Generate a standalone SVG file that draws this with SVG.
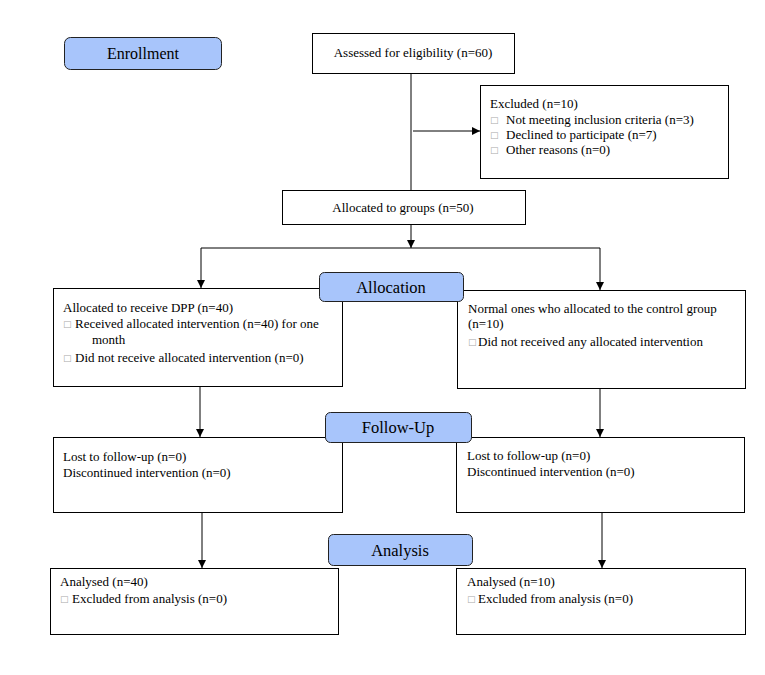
<svg xmlns="http://www.w3.org/2000/svg" width="765" height="675" viewBox="0 0 765 675">
<defs>
<style>
.box{fill:#fff;stroke:#000;stroke-width:1}
.lab{fill:#a8c5fb;stroke:#222;stroke-width:1}
.t{font-family:"Liberation Serif","Times New Roman",serif;font-size:13px;fill:#000}
.lt{font-family:"Liberation Serif","Times New Roman",serif;font-size:16.5px;fill:#000;text-anchor:middle}
.b{font-family:"DejaVu Sans",sans-serif;font-size:9px;fill:#aaa}
.ln{stroke:#000;stroke-width:1;fill:none}
</style>
<marker id="ah" viewBox="0 0 10 10" refX="10" refY="5" markerWidth="8" markerHeight="8" markerUnits="userSpaceOnUse" orient="auto">
<path d="M0,0 L10,5 L0,10 z" fill="#000"/>
</marker>
</defs>
<rect width="765" height="675" fill="#fff"/>
<g id="connectors">
<line class="ln" x1="411" y1="73" x2="411" y2="190"/>
<line class="ln" x1="413" y1="131" x2="480" y2="131" marker-end="url(#ah)"/>
<line class="ln" x1="411" y1="224" x2="411" y2="248" marker-end="url(#ah)"/>
<line class="ln" x1="201" y1="248" x2="600" y2="248"/>
<line class="ln" x1="201" y1="248" x2="201" y2="288" marker-end="url(#ah)"/>
<line class="ln" x1="600" y1="248" x2="600" y2="290" marker-end="url(#ah)"/>
<line class="ln" x1="200" y1="387" x2="200" y2="437" marker-end="url(#ah)"/>
<line class="ln" x1="600" y1="388" x2="600" y2="437" marker-end="url(#ah)"/>
<line class="ln" x1="202" y1="512" x2="202" y2="568" marker-end="url(#ah)"/>
<line class="ln" x1="602" y1="512" x2="602" y2="568" marker-end="url(#ah)"/>
</g>
<g id="enrollment">
<rect class="lab" x="64.5" y="37.5" width="157" height="32" rx="6"/>
<text class="lt" x="143" y="59" style="font-size:16px">Enrollment</text>
</g>
<g id="assessed">
<rect class="box" x="312.5" y="33.5" width="202" height="40"/>
<text class="t" x="413" y="57" text-anchor="middle">Assessed for eligibility (n=60)</text>
</g>
<g id="excluded">
<rect class="box" x="480.5" y="85.5" width="248" height="93"/>
<text class="t" x="490" y="108">Excluded (n=10)</text>
<text class="b" x="490" y="123">□</text><text class="t" x="506" y="124">Not meeting inclusion criteria (n=3)</text>
<text class="b" x="490" y="138">□</text><text class="t" x="506" y="139">Declined to participate (n=7)</text>
<text class="b" x="490" y="153">□</text><text class="t" x="506" y="154">Other reasons (n=0)</text>
</g>
<g id="allocated-groups">
<rect class="box" x="282.5" y="190.5" width="243" height="34"/>
<text class="t" x="403" y="212" text-anchor="middle">Allocated to groups (n=50)</text>
</g>
<g id="alloc-dpp">
<rect class="box" x="53.5" y="288.5" width="289" height="98"/>
<text class="t" x="63" y="312">Allocated to receive DPP (n=40)</text>
<text class="b" x="63" y="327">□</text><text class="t" x="75" y="328">Received allocated intervention (n=40) for one</text>
<text class="t" x="92" y="344">month</text>
<text class="b" x="63" y="361">□</text><text class="t" x="75" y="362">Did not receive allocated intervention (n=0)</text>
</g>
<g id="alloc-control">
<rect class="box" x="457.5" y="290.5" width="288" height="98"/>
<text class="t" x="468" y="313">Normal ones who allocated to the control group</text>
<text class="t" x="468" y="328">(n=10)</text>
<text class="b" x="468" y="345">□</text><text class="t" x="478" y="346">Did not received any allocated intervention</text>
</g>
<g id="allocation-label">
<rect class="lab" x="319.5" y="272.5" width="144" height="29" rx="5"/>
<text class="lt" x="391" y="293">Allocation</text>
</g>
<g id="followup-dpp">
<rect class="box" x="53.5" y="437.5" width="289" height="75"/>
<text class="t" x="63" y="461">Lost to follow-up (n=0)</text>
<text class="t" x="63" y="477">Discontinued intervention (n=0)</text>
</g>
<g id="followup-control">
<rect class="box" x="456.5" y="437.5" width="288" height="75"/>
<text class="t" x="467" y="460">Lost to follow-up (n=0)</text>
<text class="t" x="467" y="476">Discontinued intervention (n=0)</text>
</g>
<g id="followup-label">
<rect class="lab" x="325.5" y="412.5" width="146" height="30" rx="5"/>
<text class="lt" x="398" y="433">Follow-Up</text>
</g>
<g id="analysis-dpp">
<rect class="box" x="50.5" y="568.5" width="288" height="66"/>
<text class="t" x="60" y="586">Analysed (n=40)</text>
<text class="b" x="60" y="602">□</text><text class="t" x="72" y="603">Excluded from analysis (n=0)</text>
</g>
<g id="analysis-control">
<rect class="box" x="456.5" y="568.5" width="289" height="66"/>
<text class="t" x="467" y="586">Analysed (n=10)</text>
<text class="b" x="467" y="602">□</text><text class="t" x="478" y="603">Excluded from analysis (n=0)</text>
</g>
<g id="analysis-label">
<rect class="lab" x="328.5" y="534.5" width="144" height="31" rx="5"/>
<text class="lt" x="400" y="556">Analysis</text>
</g>
</svg>
